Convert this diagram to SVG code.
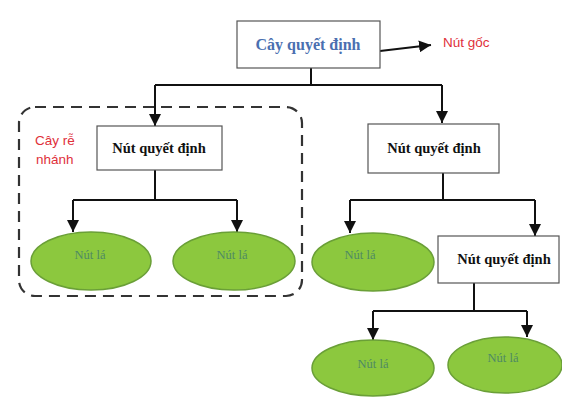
<svg xmlns="http://www.w3.org/2000/svg" width="562" height="398" viewBox="0 0 562 398">
<defs>
<marker id="ah" viewBox="0 0 10 10" refX="10" refY="5" markerWidth="6" markerHeight="6" orient="auto" markerUnits="strokeWidth">
<path d="M0,0 L10,5 L0,10 z" fill="#111"/>
</marker>
<style>
.box{fill:#fff;stroke:#555;stroke-width:1.2}
.leaf{fill:#8cc83e;stroke:#6a9f37;stroke-width:1.5}
.dec{font-family:"Liberation Serif",serif;font-weight:bold;font-size:14.5px;fill:#111;text-anchor:middle}
.leaft{font-family:"Liberation Serif",serif;font-size:12.5px;fill:#4f8a64;text-anchor:middle}
.red{font-family:"Liberation Sans",sans-serif;font-size:13.5px;fill:#e0303a}
.ln{fill:none;stroke:#111;stroke-width:2}
</style>
</defs>
<rect width="562" height="398" fill="#fff"/>
<g id="group-pruned">
<rect x="19" y="107" width="283" height="189" rx="16" fill="none" stroke="#333" stroke-width="2.2" stroke-dasharray="11,7"/>
<text class="red" x="35" y="145">Cây rễ</text>
<text class="red" x="36" y="164">nhánh</text>
</g>
<g id="connectors">
<path class="ln" d="M380,51 L431,45" marker-end="url(#ah)"/>
<path class="ln" d="M311,68 V85 M155,85 H442"/>
<path class="ln" d="M155,85 V126" marker-end="url(#ah)"/>
<path class="ln" d="M442,85 V123" marker-end="url(#ah)"/>
<path class="ln" d="M155,170 V200 M73,200 H237"/>
<path class="ln" d="M73,200 V232" marker-end="url(#ah)"/>
<path class="ln" d="M237,200 V232" marker-end="url(#ah)"/>
<path class="ln" d="M443,173 V200 M350,200 H535"/>
<path class="ln" d="M350,200 V233" marker-end="url(#ah)"/>
<path class="ln" d="M535,200 V236" marker-end="url(#ah)"/>
<path class="ln" d="M474,283 V311 M373,311 H527"/>
<path class="ln" d="M373,311 V340" marker-end="url(#ah)"/>
<path class="ln" d="M527,311 V337" marker-end="url(#ah)"/>
</g>
<g id="root">
<rect class="box" x="237" y="21" width="143" height="47"/>
<text x="308" y="50" font-family="Liberation Serif, serif" font-weight="bold" font-size="16" fill="#4a6fb0" text-anchor="middle">Cây quyết định</text>
</g>
<g id="root-label">
<text class="red" x="443" y="47">Nút gốc</text>
</g>
<g id="decision-left">
<rect class="box" x="97" y="126" width="125" height="44"/>
<text class="dec" x="159" y="153">Nút quyết định</text>
</g>
<g id="decision-right">
<rect class="box" x="368" y="124" width="131" height="49"/>
<text class="dec" x="434" y="153">Nút quyết định</text>
</g>
<g id="decision-right2">
<rect class="box" x="438" y="236" width="121" height="47"/>
<text class="dec" x="504" y="264">Nút quyết định</text>
</g>
<g id="leaf1">
<ellipse class="leaf" cx="91" cy="261" rx="60" ry="29"/>
<text class="leaft" x="90" y="259">Nút lá</text>
</g>
<g id="leaf2">
<ellipse class="leaf" cx="234" cy="261" rx="61" ry="29"/>
<text class="leaft" x="232" y="259">Nút lá</text>
</g>
<g id="leaf3">
<ellipse class="leaf" cx="373" cy="262" rx="61" ry="29"/>
<text class="leaft" x="360" y="259">Nút lá</text>
</g>
<g id="leaf4">
<ellipse class="leaf" cx="373" cy="368" rx="61" ry="28"/>
<text class="leaft" x="373" y="368">Nút lá</text>
</g>
<g id="leaf5">
<ellipse class="leaf" cx="505" cy="365" rx="57" ry="28"/>
<text class="leaft" x="503" y="362">Nút lá</text>
</g>
</svg>
